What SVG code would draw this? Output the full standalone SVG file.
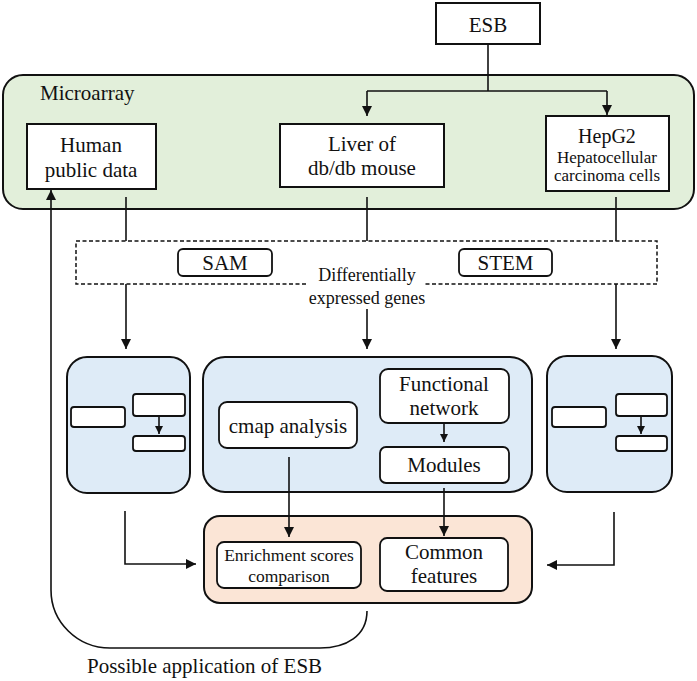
<svg xmlns="http://www.w3.org/2000/svg" width="697" height="681" viewBox="0 0 697 681">
<style>
text{font-family:"Liberation Serif","Times New Roman",serif;fill:#111;text-anchor:middle}
.t21{font-size:21px}.t18{font-size:18px}.t17{font-size:17px}
.box{fill:#fff;stroke:#111;stroke-width:2}
.rbox{fill:#fff;stroke:#111;stroke-width:1.8}
.cont{stroke:#111;stroke-width:2}
.ln{fill:none;stroke:#111;stroke-width:1.6}
</style>
<defs>
<marker id="ah" viewBox="0 0 10 10" refX="10" refY="5" markerWidth="10" markerHeight="10" markerUnits="userSpaceOnUse" orient="auto"><path d="M0,0 L10,5 L0,10 z" fill="#111"/></marker>
<marker id="ahs" viewBox="0 0 10 10" refX="10" refY="5" markerWidth="8" markerHeight="8" markerUnits="userSpaceOnUse" orient="auto"><path d="M0,0 L10,5 L0,10 z" fill="#111"/></marker>
</defs>
<rect width="697" height="681" fill="#fff"/>

<g id="microarray">
<rect class="cont" x="3" y="75" width="691" height="134" rx="20" fill="#e2efda"/>
<text class="t21" x="40" y="100" style="text-anchor:start">Microarray</text>
</g>
<g id="esb"><rect class="box" x="436" y="3" width="104" height="41"/><text class="t21" x="488" y="32">ESB</text></g>
<g id="human"><rect class="box" x="27" y="124" width="129" height="65"/><text class="t21" x="91" y="152">Human</text><text class="t21" x="91" y="177">public data</text></g>
<g id="liver"><rect class="box" x="280" y="124" width="164" height="63"/><text class="t21" x="362" y="151">Liver of</text><text class="t21" x="362" y="175">db/db mouse</text></g>
<g id="hepg2"><rect class="box" x="546" y="116" width="123" height="75"/><text x="607" y="143" style="font-size:20px">HepG2</text><text class="t17" x="607" y="163">Hepatocellular</text><text class="t17" x="607" y="181">carcinoma cells</text></g>

<g id="deg">
<rect x="76" y="241" width="581" height="43" fill="none" stroke="#111" stroke-width="1.5" stroke-dasharray="4 2.5"/>
<rect x="306" y="263" width="118" height="46" fill="#fff"/>
<text class="t18" x="367" y="281">Differentially</text>
<text class="t18" x="367" y="304">expressed genes</text>
</g>
<g id="sam"><rect class="rbox" x="178" y="249" width="94" height="27" rx="5"/><text class="t21" x="225" y="270">SAM</text></g>
<g id="stem"><rect class="rbox" x="459" y="249" width="93" height="27" rx="5"/><text class="t21" x="505.5" y="270">STEM</text></g>

<g id="leftpanel">
<rect class="cont" x="67" y="357" width="123" height="136" rx="20" fill="#deebf7"/>
<rect class="rbox" x="71" y="407" width="54" height="20" rx="3"/>
<rect class="rbox" x="133" y="394" width="52" height="22" rx="3"/>
<rect class="rbox" x="133" y="436" width="52" height="15" rx="3"/>
<line class="ln" x1="159" y1="417" x2="159" y2="434" marker-end="url(#ahs)"/>
</g>
<g id="midpanel">
<rect class="cont" x="203" y="357" width="329" height="135" rx="22" fill="#deebf7"/>
</g>
<g id="cmap"><rect class="rbox" x="219" y="402" width="138" height="46" rx="8"/><text class="t21" x="288" y="433">cmap analysis</text></g>
<g id="fnet"><rect class="rbox" x="380" y="369" width="129" height="54" rx="8"/><text class="t21" x="444" y="391">Functional</text><text class="t21" x="444" y="415">network</text></g>
<g id="modules"><rect class="rbox" x="380" y="447" width="129" height="36" rx="6"/><text class="t21" x="444" y="472">Modules</text></g>
<g id="rightpanel">
<rect class="cont" x="547" y="356" width="125" height="136" rx="20" fill="#deebf7"/>
<rect class="rbox" x="552" y="407" width="54" height="20" rx="3"/>
<rect class="rbox" x="616" y="394" width="51" height="22" rx="3"/>
<rect class="rbox" x="616" y="436" width="51" height="15" rx="3"/>
<line class="ln" x1="641" y1="417" x2="641" y2="434" marker-end="url(#ahs)"/>
</g>

<g id="results">
<rect class="cont" x="204" y="516" width="328" height="87" rx="16" fill="#fbe5d6"/>
</g>
<g id="enrich"><rect class="rbox" x="217" y="542" width="144" height="46" rx="7"/><text x="289" y="561" style="font-size:17.5px">Enrichment scores</text><text x="289" y="582" style="font-size:17.5px">comparison</text></g>
<g id="common"><rect class="rbox" x="380" y="538" width="128" height="53" rx="7"/><text class="t21" x="444" y="559">Common</text><text class="t21" x="444" y="583">features</text></g>

<text id="possible" class="t21" x="87" y="673" style="text-anchor:start">Possible application of ESB</text>

<g id="connectors">
<path class="ln" d="M488 44 V91"/>
<path class="ln" d="M367 91 H607"/>
<path class="ln" d="M367 91 V116" marker-end="url(#ah)"/>
<path class="ln" d="M607 91 V115" marker-end="url(#ah)"/>
<path class="ln" d="M126 197 V241"/>
<path class="ln" d="M367 197 V241"/>
<path class="ln" d="M616 197 V241"/>
<path class="ln" d="M126 284 V349" marker-end="url(#ah)"/>
<path class="ln" d="M367 309 V349" marker-end="url(#ah)"/>
<path class="ln" d="M616 284 V349" marker-end="url(#ah)"/>
<path class="ln" d="M444 423 V442" marker-end="url(#ahs)"/>
<path class="ln" d="M289 457 V537" marker-end="url(#ah)"/>
<path class="ln" d="M444 488 V536" marker-end="url(#ah)"/>
<path class="ln" d="M125 511 V564 H196" marker-end="url(#ah)"/>
<path class="ln" d="M614 512 V565 H547" marker-end="url(#ah)"/>
<path class="ln" d="M367 611 C367 636 346 648 320 648 L110 648 A59 58 0 0 1 51 590 L51 190" marker-end="url(#ah)"/>
</g>
</svg>
